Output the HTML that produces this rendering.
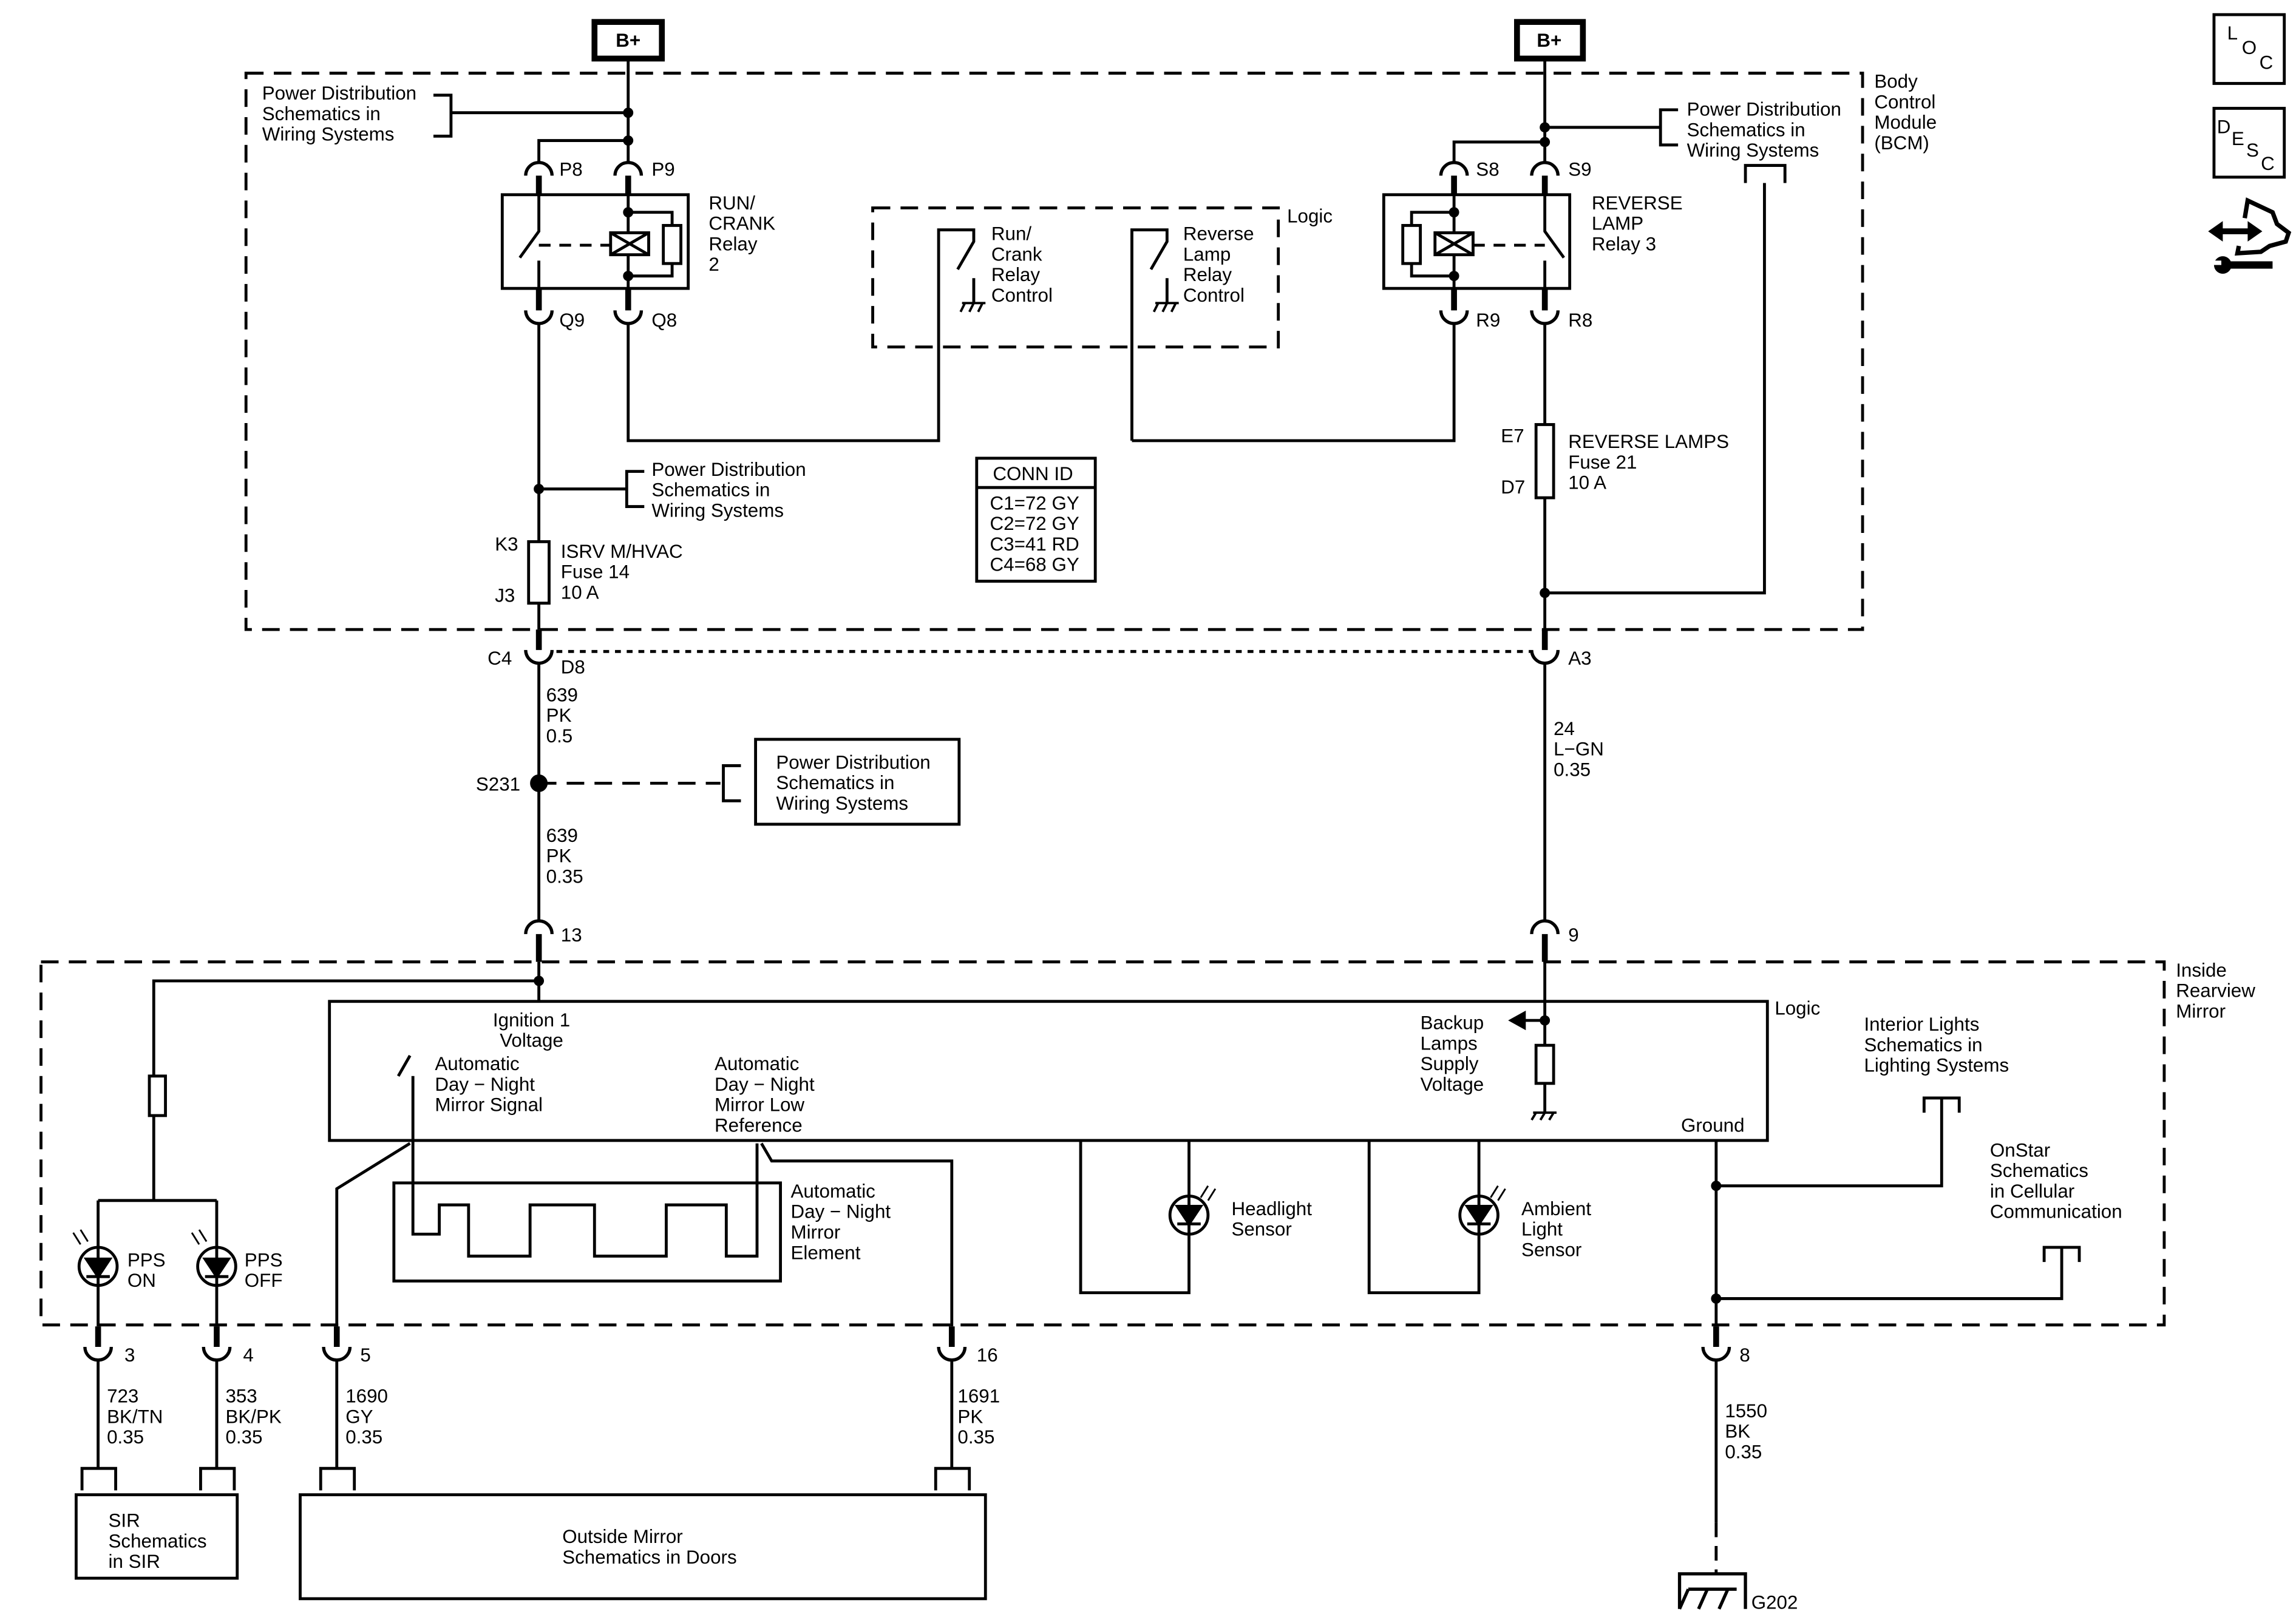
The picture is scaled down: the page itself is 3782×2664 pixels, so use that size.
<!DOCTYPE html>
<html><head><meta charset="utf-8"><style>
html,body{margin:0;padding:0;background:#fff;}
svg{display:block;}
text{font-family:"Liberation Sans",Arial,sans-serif;font-size:13px;fill:#000;}
</style></head><body>
<svg width="3782" height="2664" viewBox="0 0 1568 1104.5" preserveAspectRatio="none" xmlns="http://www.w3.org/2000/svg">
<g fill="none" stroke="#000" stroke-width="2">
<!-- B+ boxes -->
<rect x="406" y="15" width="46" height="25" stroke-width="4"/>
<rect x="1036" y="15" width="45" height="25" stroke-width="4"/>
<!-- BCM box -->
<rect x="168" y="50" width="1104" height="380" stroke-dasharray="12 7"/>
<!-- left top wiring -->
<path d="M429 40 V111 M368 111 V96 H429 M308 77 H429"/>
<path d="M296 65 H308 V93 H296"/>
<rect x="343" y="133" width="127" height="64"/>
<rect x="945" y="133" width="127" height="64"/>
<!-- left relay internals -->
<path d="M368 133 V158 L355 176 M368 178 V197 M429 133 V159 M429 174 V197"/>
<path d="M368 167.5 H417" stroke-dasharray="8 6"/>
<rect x="417" y="159" width="26" height="15"/>
<path d="M417 159 L443 174 M443 159 L417 174"/>
<path d="M429 145 H459 V154 M429 188.5 H459 V180"/>
<rect x="453" y="154" width="12" height="26"/>
<!-- right relay internals -->
<path d="M1055 133 V158 L1068 176 M1055 178 V197 M993 133 V159 M993 174 V197"/>
<path d="M1006 167.5 H1055" stroke-dasharray="8 6"/>
<rect x="980" y="159" width="26" height="15"/>
<path d="M980 159 L1006 174 M1006 159 L980 174"/>
<path d="M993 145 H964 V154 M993 188.5 H964 V180"/>
<rect x="958" y="154" width="12" height="26"/>
<!-- right top -->
<path d="M1055 40 V111 M993 111 V97 H1055 M1134 87 H1055"/>
<path d="M1146 75 H1134 V99 H1146"/>
<path d="M1192 125 V113 H1219 V125 M1205 125 V405 H1055"/>
<!-- logic box -->
<rect x="596" y="142" width="277" height="95" stroke-dasharray="12 7"/>
<path d="M429 221 V301 H641 V157 H665 V165 L654 184 M665 190 V207"/>
<path d="M773 301 V157 H797 V165 L786 184 M797 190 V207 M773 301 H993 V221"/>
<!-- wire x=368 -->
<path d="M368 221 V370 M368 412 V430 M368 334 H428"/>
<path d="M440 322 H428 V346 H440"/>
<rect x="361" y="370" width="14" height="42"/>
<!-- right fuse -->
<path d="M1055 221 V290 M1055 340 V430"/>
<rect x="1049" y="290" width="12" height="50"/>
<!-- conn id -->
<rect x="667" y="313" width="81" height="84"/>
<path d="M667 333 H748"/>
<!-- C4/A3 -->
<path d="M380 445 H1045" stroke-dasharray="4 4"/>
<path d="M368 453 V629 M1055 453 V629"/>
<path d="M368 535 H492" stroke-dasharray="12 7"/>
<path d="M506 523 H494 V547 H506"/>
<rect x="516" y="505" width="139" height="58"/>
<!-- mirror box -->
<rect x="28" y="657" width="1450" height="248" stroke-dasharray="12 7"/>
<rect x="225" y="684" width="982" height="95"/>
<path d="M368 657 V684 M1055 657 V714 M1055 740 V760 M1055 697 H1032"/>
<rect x="1049" y="714" width="12" height="26"/>
<path d="M368 670 H105 V735 M105 762 V820 M67 820 H148 M67 820 V906 M148 820 V906"/>
<rect x="102" y="735" width="11" height="27"/>
<!-- switch in logic -->
<path d="M280 721 L272 735"/>
<!-- mirror element -->
<rect x="269" y="808" width="264" height="67"/>
<path d="M282 735 V843 H300 V823 H320 V858 H362 V823 H406 V858 H455 V823 H496 V858 H517 V781"/>
<path d="M280 781 L230 812 V906 M520 781 L527 793 H650 V906"/>
<!-- sensors -->
<path d="M738 779 V883 H812 V779 M935 779 V883 H1010 V779"/>
<!-- ground/right -->
<path d="M1172 779 V906 M1172 810 H1326 V750 M1172 887 H1408 V852"/>
<path d="M1314 760 V750 H1338 V760 M1396 862 V852 H1420 V862"/>
<!-- bottom wires -->
<path d="M67 929 V1003 M148 929 V1003 M230 929 V1003 M650 929 V1003 M1172 929 V1040"/>
<path d="M1172 1040 V1075" stroke-dasharray="10 6"/>
<path d="M56 1018 V1003 H79 V1018 M137 1018 V1003 H160 V1018 M219 1018 V1003 H242 V1018 M639 1018 V1003 H662 V1018"/>
<rect x="52" y="1021" width="110" height="57"/>
<rect x="205" y="1021" width="468" height="71"/>
<path d="M1147 1099 V1075 H1192 V1099 M1153 1085.5 H1186 M1153 1085.5 L1147 1099 M1166 1085.5 L1160 1099 M1180 1085.5 L1174 1099" stroke-width="2.2"/>
<!-- right icons -->
<rect x="1512" y="10" width="48" height="47"/>
<rect x="1512" y="74" width="48" height="47"/>
<path d="M1533 149 L1535 137 L1552 145 L1555 153 L1563 159 L1561 165 L1550 168 L1544 172 L1528 173 L1529 168" stroke-width="3"/>
<path d="M1520 181 H1552" stroke-width="5"/>
</g>
<!-- icon fills -->
<g fill="#000">
<path d="M1508 158 L1518 151 V156 H1535 V151 L1545 158 L1535 165 V160 H1518 V165 Z"/>
<circle cx="1518" cy="181" r="6"/>
<rect x="1511" y="178" width="6" height="3" fill="#fff"/>
</g>
<!-- connectors: top type -->
<g fill="none" stroke="#000" stroke-width="2.2">
<path d="M359 120 A9 9 0 0 1 377 120 M420 120 A9 9 0 0 1 438 120 M984 120 A9 9 0 0 1 1002 120 M1046 120 A9 9 0 0 1 1064 120"/>
<path d="M359 638 A9 9 0 0 1 377 638 M1046 638 A9 9 0 0 1 1064 638"/>
<!-- bottom type -->
<path d="M359 212 A9 9 0 0 0 377 212 M420 212 A9 9 0 0 0 438 212 M984 212 A9 9 0 0 0 1002 212 M1046 212 A9 9 0 0 0 1064 212"/>
<path d="M359 444 A9 9 0 0 0 377 444 M1046 444 A9 9 0 0 0 1064 444"/>
<path d="M58 920 A9 9 0 0 0 76 920 M139 920 A9 9 0 0 0 157 920 M221 920 A9 9 0 0 0 239 920 M641 920 A9 9 0 0 0 659 920 M1163 920 A9 9 0 0 0 1181 920"/>
</g>
<g stroke="#000" stroke-width="4" fill="none">
<path d="M368 120 V133 M429 120 V133 M993 120 V133 M1055 120 V133"/>
<path d="M368 197 V212 M429 197 V212 M993 197 V212 M1055 197 V212"/>
<path d="M368 430 V444 M1055 430 V444"/>
<path d="M368 638 V657 M1055 638 V657"/>
<path d="M67 906 V920 M148 906 V920 M230 906 V920 M650 906 V920 M1172 906 V920"/>
</g>
<g stroke="#000" stroke-width="2" fill="#000">
<circle cx="429" cy="77" r="2.5"/><circle cx="429" cy="96" r="2.5"/>
<circle cx="1055" cy="87" r="2.5"/><circle cx="1055" cy="97" r="2.5"/>
<circle cx="429" cy="145" r="2.5"/><circle cx="429" cy="188.5" r="2.5"/>
<circle cx="993" cy="145" r="2.5"/><circle cx="993" cy="188.5" r="2.5"/>
<circle cx="368" cy="334" r="2.5"/><circle cx="1055" cy="405" r="2.5"/>
<circle cx="368" cy="535" r="5"/>
<circle cx="368" cy="670" r="2.5"/><circle cx="1055" cy="697" r="2.5"/>
<circle cx="1172" cy="810" r="2.5"/><circle cx="1172" cy="887" r="2.5"/>
<path d="M1032 697 l9 -5 v10 z"/>
</g>
<!-- grounds -->
<g fill="none" stroke="#000" stroke-width="1.6">
<path d="M657 207 H673 M659 207 l-3 6 M665 207 l-3 6 M671 207 l-3 6"/>
<path d="M789 207 H805 M791 207 l-3 6 M797 207 l-3 6 M803 207 l-3 6"/>
<path d="M1047 760 H1063 M1049 760 l-3 5 M1055 760 l-3 5 M1061 760 l-3 5"/>
</g>
<!-- LEDs -->
<g fill="none" stroke="#000" stroke-width="2">
<circle cx="67" cy="865" r="13"/><circle cx="148" cy="865" r="13"/>
<circle cx="812" cy="830" r="13"/><circle cx="1010" cy="830" r="13"/>
<path d="M59 860 H75 L67 872 Z M59 872 H75 M140 860 H156 L148 872 Z M140 872 H156" fill="#000"/>
<path d="M804 824 H820 L812 836 Z M804 836 H820 M1002 824 H1018 L1010 836 Z M1002 836 H1018" fill="#000"/>
<path d="M55 850 l-5 -8 M60 848 l-5 -8 M136 850 l-5 -8 M141 848 l-5 -8 M820 818 l5 -8 M825 820 l5 -8 M1018 818 l5 -8 M1023 820 l5 -8" stroke-width="1.2"/>
</g>
<!-- TEXT -->
<text x="429" y="32" text-anchor="middle" font-weight="bold">B+</text>
<text x="1058" y="32" text-anchor="middle" font-weight="bold">B+</text>
<text x="1521" y="27">L</text><text x="1531" y="37">O</text><text x="1543" y="47">C</text>
<text x="1514" y="91">D</text><text x="1524" y="99">E</text><text x="1534" y="107">S</text><text x="1544" y="116">C</text>
<text x="179" y="68">Power Distribution</text><text x="179" y="82">Schematics in</text><text x="179" y="96">Wiring Systems</text>
<text x="1280" y="60">Body</text><text x="1280" y="74">Control</text><text x="1280" y="88">Module</text><text x="1280" y="102">(BCM)</text>
<text x="1152" y="79">Power Distribution</text><text x="1152" y="93">Schematics in</text><text x="1152" y="107">Wiring Systems</text>
<text x="382" y="120">P8</text><text x="445" y="120">P9</text>
<text x="1008" y="120">S8</text><text x="1071" y="120">S9</text>
<text x="484" y="143">RUN/</text><text x="484" y="157">CRANK</text><text x="484" y="171">Relay</text><text x="484" y="185">2</text>
<text x="1087" y="143">REVERSE</text><text x="1087" y="157">LAMP</text><text x="1087" y="171">Relay 3</text>
<text x="879" y="152">Logic</text>
<text x="677" y="164">Run/</text><text x="677" y="178">Crank</text><text x="677" y="192">Relay</text><text x="677" y="206">Control</text>
<text x="808" y="164">Reverse</text><text x="808" y="178">Lamp</text><text x="808" y="192">Relay</text><text x="808" y="206">Control</text>
<text x="382" y="223">Q9</text><text x="445" y="223">Q8</text>
<text x="1008" y="223">R9</text><text x="1071" y="223">R8</text>
<text x="445" y="325">Power Distribution</text><text x="445" y="339">Schematics in</text><text x="445" y="353">Wiring Systems</text>
<text x="678" y="328">CONN ID</text>
<text x="676" y="348">C1=72 GY</text><text x="676" y="362">C2=72 GY</text><text x="676" y="376">C3=41 RD</text><text x="676" y="390">C4=68 GY</text>
<text x="1025" y="302">E7</text><text x="1025" y="337">D7</text>
<text x="1071" y="306">REVERSE LAMPS</text><text x="1071" y="320">Fuse 21</text><text x="1071" y="334">10 A</text>
<text x="338" y="376">K3</text><text x="338" y="411">J3</text>
<text x="383" y="381">ISRV M/HVAC</text><text x="383" y="395">Fuse 14</text><text x="383" y="409">10 A</text>
<text x="333" y="454">C4</text><text x="383" y="460">D8</text><text x="1071" y="454">A3</text>
<text x="373" y="479">639</text><text x="373" y="493">PK</text><text x="373" y="507">0.5</text>
<text x="1061" y="502">24</text><text x="1061" y="516">L−GN</text><text x="1061" y="530">0.35</text>
<text x="325" y="540">S231</text>
<text x="530" y="525">Power Distribution</text><text x="530" y="539">Schematics in</text><text x="530" y="553">Wiring Systems</text>
<text x="373" y="575">639</text><text x="373" y="589">PK</text><text x="373" y="603">0.35</text>
<text x="383" y="643">13</text><text x="1071" y="643">9</text>
<text x="1486" y="667">Inside</text><text x="1486" y="681">Rearview</text><text x="1486" y="695">Mirror</text>
<text x="1212" y="693">Logic</text>
<text x="363" y="701" text-anchor="middle">Ignition 1</text><text x="363" y="715" text-anchor="middle">Voltage</text>
<text x="297" y="731">Automatic</text><text x="297" y="745">Day − Night</text><text x="297" y="759">Mirror Signal</text>
<text x="488" y="731">Automatic</text><text x="488" y="745">Day − Night</text><text x="488" y="759">Mirror Low</text><text x="488" y="773">Reference</text>
<text x="970" y="703">Backup</text><text x="970" y="717">Lamps</text><text x="970" y="731">Supply</text><text x="970" y="745">Voltage</text>
<text x="1148" y="773">Ground</text>
<text x="1273" y="704">Interior Lights</text><text x="1273" y="718">Schematics in</text><text x="1273" y="732">Lighting Systems</text>
<text x="1359" y="790">OnStar</text><text x="1359" y="804">Schematics</text><text x="1359" y="818">in Cellular</text><text x="1359" y="832">Communication</text>
<text x="540" y="818">Automatic</text><text x="540" y="832">Day − Night</text><text x="540" y="846">Mirror</text><text x="540" y="860">Element</text>
<text x="841" y="830">Headlight</text><text x="841" y="844">Sensor</text>
<text x="1039" y="830">Ambient</text><text x="1039" y="844">Light</text><text x="1039" y="858">Sensor</text>
<text x="87" y="865">PPS</text><text x="87" y="879">ON</text>
<text x="167" y="865">PPS</text><text x="167" y="879">OFF</text>
<text x="85" y="930">3</text><text x="166" y="930">4</text><text x="246" y="930">5</text><text x="667" y="930">16</text><text x="1188" y="930">8</text>
<text x="73" y="958">723</text><text x="73" y="972">BK/TN</text><text x="73" y="986">0.35</text>
<text x="154" y="958">353</text><text x="154" y="972">BK/PK</text><text x="154" y="986">0.35</text>
<text x="236" y="958">1690</text><text x="236" y="972">GY</text><text x="236" y="986">0.35</text>
<text x="654" y="958">1691</text><text x="654" y="972">PK</text><text x="654" y="986">0.35</text>
<text x="1178" y="968">1550</text><text x="1178" y="982">BK</text><text x="1178" y="996">0.35</text>
<text x="74" y="1043">SIR</text><text x="74" y="1057">Schematics</text><text x="74" y="1071">in SIR</text>
<text x="384" y="1054">Outside Mirror</text><text x="384" y="1068">Schematics in Doors</text>
<text x="1196" y="1099">G202</text>
</svg>
</body></html>
